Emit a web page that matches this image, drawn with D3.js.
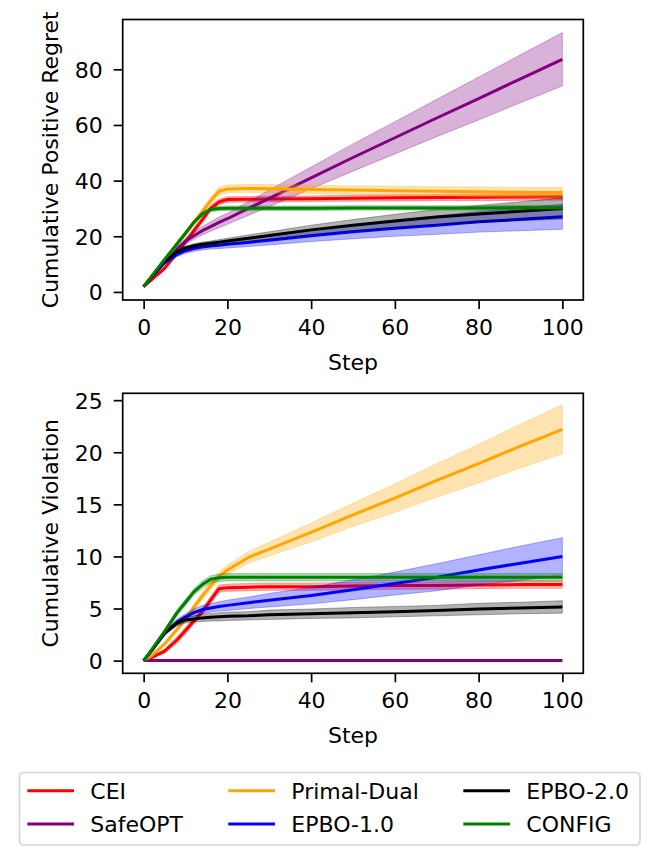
<!DOCTYPE html>
<html>
<head>
<meta charset="utf-8">
<script src="https://cdn.jsdelivr.net/npm/d3@7"></script>
<style>
  body { margin: 0; background: #fff; }
  svg { font-family: "DejaVu Sans", sans-serif; }
</style>
</head>
<body>
<div id="chart"></div>
<script>
const steps = [0, 2, 5, 8, 10, 12, 14, 16, 18, 20, 25, 30, 40, 50, 60, 70, 80, 90, 100];

const methods = ["CEI", "SafeOPT", "Primal-Dual", "EPBO-1.0", "EPBO-2.0", "CONFIG"];
const colors = ["red", "purple", "orange", "blue", "black", "green"];

// cumulative positive regret (mean)
const regretCEI = [1.9, 4.5, 8.5, 14, 18, 22, 25.9, 30, 32.3, 33.2, 33.3, 33.4, 33.5, 33.7, 33.8, 33.9, 34.0, 34.1, 34.2];
const regretSafeOPT = [1.9, 5.5, 11, 15.5, 18.2, 20.2, 22, 23.5, 25, 26.3, 30, 33.6, 41, 48.3, 55.4, 62.5, 69.5, 76.6, 83.6];
const regretPrimalDual = [1.9, 5.7, 11.5, 17.3, 21.1, 25, 28.8, 32.8, 36.2, 37.0, 37.2, 37.1, 36.8, 36.6, 36.4, 36.2, 36.0, 35.8, 35.7];
const regretEPBO1 = [1.9, 5.5, 10.5, 13.5, 14.8, 15.6, 16.1, 16.5, 16.8, 17.1, 17.8, 18.6, 20.2, 21.6, 22.9, 24.0, 25.2, 26.1, 27.0];
const regretEPBO2 = [1.9, 5.6, 11, 14.5, 15.8, 16.6, 17.1, 17.5, 17.9, 18.3, 19.3, 20.3, 22.3, 24, 25.5, 26.9, 28.0, 29.0, 30.0];
const regretCONFIG = [1.9, 5.8, 11.7, 17.3, 21.1, 25, 28.0, 29.6, 30.0, 30.1, 30.1, 30.1, 30.1, 30.2, 30.2, 30.2, 30.2, 30.3, 30.3];

// regret band half-widths
const regretCEIStd = [0.1, 0.4, 0.6, 0.8, 0.9, 1.0, 1.0, 1.0, 1.0, 1.0, 1.0, 1.0, 1.0, 1.1, 1.1, 1.1, 1.2, 1.2, 1.2];
const regretSafeOPTStd = [0.1, 0.3, 0.6, 0.9, 1.1, 1.3, 1.5, 1.7, 1.9, 2.0, 2.5, 3.0, 3.9, 4.9, 5.8, 6.7, 7.7, 8.6, 9.6];
const regretPrimalDualStd = [0.1, 0.4, 0.6, 0.8, 1.0, 1.1, 1.2, 1.3, 1.4, 1.4, 1.4, 1.5, 1.5, 1.5, 1.6, 1.6, 1.7, 1.7, 1.8];
const regretEPBO1Std = [0.1, 0.3, 0.6, 0.8, 0.9, 1.0, 1.0, 1.1, 1.2, 1.3, 1.5, 1.7, 2.1, 2.5, 2.9, 3.3, 3.7, 4.1, 4.5];
const regretEPBO2Std = [0.1, 0.3, 0.5, 0.6, 0.7, 0.7, 0.8, 0.8, 0.9, 1.0, 1.2, 1.3, 1.7, 2.0, 2.4, 2.7, 3.1, 3.4, 3.8];
const regretCONFIGStd = [0.1, 0.3, 0.5, 0.6, 0.7, 0.7, 0.8, 0.8, 0.8, 0.8, 0.8, 0.8, 0.8, 0.8, 0.8, 0.8, 0.8, 0.8, 0.8];

// cumulative violation (mean)
const violCEI = [0, 0.3, 0.9, 2.0, 2.9, 3.8, 4.7, 5.8, 6.9, 7.0, 7.05, 7.1, 7.1, 7.15, 7.2, 7.2, 7.25, 7.3, 7.3];
const violSafeOPT = [0, 0, 0, 0, 0, 0, 0, 0, 0, 0, 0, 0, 0, 0, 0, 0, 0, 0, 0];
const violPrimalDual = [0, 0.5, 1.6, 3.0, 4.0, 5.1, 6.2, 7.2, 8.1, 8.7, 9.9, 10.7, 12.3, 14.0, 15.6, 17.3, 18.9, 20.6, 22.2];
const violEPBO1 = [0, 1.0, 2.6, 3.7, 4.2, 4.6, 4.9, 5.05, 5.2, 5.3, 5.55, 5.8, 6.25, 6.8, 7.4, 8.0, 8.7, 9.35, 10.0];
const violEPBO2 = [0, 1.0, 2.7, 3.6, 3.9, 4.0, 4.1, 4.15, 4.2, 4.25, 4.3, 4.4, 4.5, 4.6, 4.7, 4.8, 4.95, 5.05, 5.15];
const violCONFIG = [0, 1.1, 2.8, 4.6, 5.6, 6.6, 7.3, 7.8, 7.95, 8.0, 8.0, 8.0, 8.0, 8.0, 8.0, 8.0, 8.0, 8.0, 8.0];

// violation band half-widths
const violCEIStd = [0, 0.1, 0.2, 0.3, 0.3, 0.3, 0.3, 0.35, 0.35, 0.35, 0.35, 0.35, 0.35, 0.35, 0.35, 0.35, 0.35, 0.35, 0.35];
const violSafeOPTStd = [0, 0, 0, 0, 0, 0, 0, 0, 0, 0, 0, 0, 0, 0, 0, 0, 0, 0, 0];
const violPrimalDualStd = [0, 0.1, 0.15, 0.2, 0.25, 0.3, 0.35, 0.4, 0.4, 0.45, 0.55, 0.65, 0.9, 1.1, 1.35, 1.6, 1.85, 2.1, 2.35];
const violEPBO1Std = [0, 0.1, 0.2, 0.3, 0.3, 0.35, 0.4, 0.4, 0.45, 0.5, 0.55, 0.65, 0.8, 0.95, 1.1, 1.3, 1.45, 1.65, 1.8];
const violEPBO2Std = [0, 0.1, 0.2, 0.25, 0.3, 0.3, 0.35, 0.35, 0.4, 0.4, 0.4, 0.45, 0.45, 0.5, 0.5, 0.5, 0.55, 0.55, 0.6];
const violCONFIGStd = [0, 0.1, 0.2, 0.3, 0.3, 0.3, 0.35, 0.35, 0.35, 0.35, 0.35, 0.35, 0.35, 0.35, 0.35, 0.35, 0.35, 0.35, 0.35];

const xTicks = [0, 20, 40, 60, 80, 100];
const regretTicks = [0, 20, 40, 60, 80];
const violTicks = [0, 5, 10, 15, 20, 25];

const regretMeans = [regretCEI, regretSafeOPT, regretPrimalDual, regretEPBO1, regretEPBO2, regretCONFIG];
const regretStds = [regretCEIStd, regretSafeOPTStd, regretPrimalDualStd, regretEPBO1Std, regretEPBO2Std, regretCONFIGStd];
const violMeans = [violCEI, violSafeOPT, violPrimalDual, violEPBO1, violEPBO2, violCONFIG];
const violStds = [violCEIStd, violSafeOPTStd, violPrimalDualStd, violEPBO1Std, violEPBO2Std, violCONFIGStd];

const width = 660;
const height = 865;
const fontSize = 22;

const svg = d3.select("#chart")
    .append("svg")
    .attr("width", width)
    .attr("height", height);

const left = 122.7, right = 583.3;

function drawPanel(top, bottom, yDomain, yTicks, means, stds, yLabel) {
    const x = d3.scaleLinear().domain([-5, 105]).range([left, right]);
    const y = d3.scaleLinear().domain(yDomain).range([bottom, top]);

    const g = svg.append("g");

    means.forEach((m, i) => {
        const rows = steps.map((s, k) => ({ s: s, v: m[k], e: stds[i][k] }));

        const area = d3.area()
            .x(d => x(d.s))
            .y0(d => y(d.v - d.e))
            .y1(d => y(d.v + d.e));

        g.append("path")
            .datum(rows)
            .attr("d", area)
            .attr("fill", colors[i])
            .attr("fill-opacity", 0.3)
            .attr("stroke", colors[i])
            .attr("stroke-opacity", 0.3)
            .attr("stroke-width", 1);

        const line = d3.line()
            .x(d => x(d.s))
            .y(d => y(d.v));

        g.append("path")
            .datum(rows)
            .attr("d", line)
            .attr("fill", "none")
            .attr("stroke", colors[i])
            .attr("stroke-width", 3)
            .attr("stroke-linejoin", "round");
    });

    const xAxis = d3.axisBottom(x).tickValues(xTicks).tickSize(9).tickPadding(10);
    const yAxis = d3.axisLeft(y).tickValues(yTicks).tickSize(9).tickPadding(11);

    const xg = g.append("g")
        .attr("transform", `translate(0, ${bottom})`)
        .call(xAxis);
    const yg = g.append("g")
        .attr("transform", `translate(${left}, 0)`)
        .call(yAxis);

    [xg, yg].forEach(a => {
        a.select(".domain").remove();
        a.selectAll("line").attr("stroke", "#000").attr("stroke-width", 1.7);
        a.selectAll("text")
            .attr("fill", "#000")
            .style("font-size", fontSize + "px")
            .style("font-family", "DejaVu Sans");
    });
    yg.selectAll("text").attr("dy", "0.36em");

    // frame
    g.append("rect")
        .attr("x", left)
        .attr("y", top)
        .attr("width", right - left)
        .attr("height", bottom - top)
        .attr("fill", "none")
        .attr("stroke", "#000")
        .attr("stroke-width", 1.7);

    g.append("text")
        .attr("x", (left + right) / 2)
        .attr("y", bottom + 70)
        .attr("text-anchor", "middle")
        .style("font-size", fontSize + "px")
        .text("Step");

    g.append("text")
        .attr("transform", `translate(58, ${(top + bottom) / 2}) rotate(-90)`)
        .attr("text-anchor", "middle")
        .style("font-size", fontSize + "px")
        .text(yLabel);
}

drawPanel(19.5, 300, [-2.9, 97.9], regretTicks, regretMeans, regretStds, "Cumulative Positive Regret");
drawPanel(393.3, 673.3, [-1.22, 25.66], violTicks, violMeans, violStds, "Cumulative Violation");

// legend, filled column by column like matplotlib ncol=3
const legend = svg.append("g");
legend.append("rect")
    .attr("x", 19.5)
    .attr("y", 772.5)
    .attr("width", 620.5)
    .attr("height", 72.5)
    .attr("rx", 4)
    .attr("fill", "#fff")
    .attr("stroke", "#d6d6d6")
    .attr("stroke-width", 1.7);

const colX = [27.3, 228.3, 463.3];
const rowY = [790.7, 824];
methods.forEach((name, i) => {
    const c = Math.floor(i / 2), r = i % 2;
    legend.append("line")
        .attr("x1", colX[c])
        .attr("x2", colX[c] + 46.7)
        .attr("y1", rowY[r])
        .attr("y2", rowY[r])
        .attr("stroke", colors[i])
        .attr("stroke-width", 3);
    legend.append("text")
        .attr("x", colX[c] + 63)
        .attr("y", rowY[r] + 8)
        .style("font-size", fontSize + "px")
        .text(name);
});
</script>
</body>
</html>
